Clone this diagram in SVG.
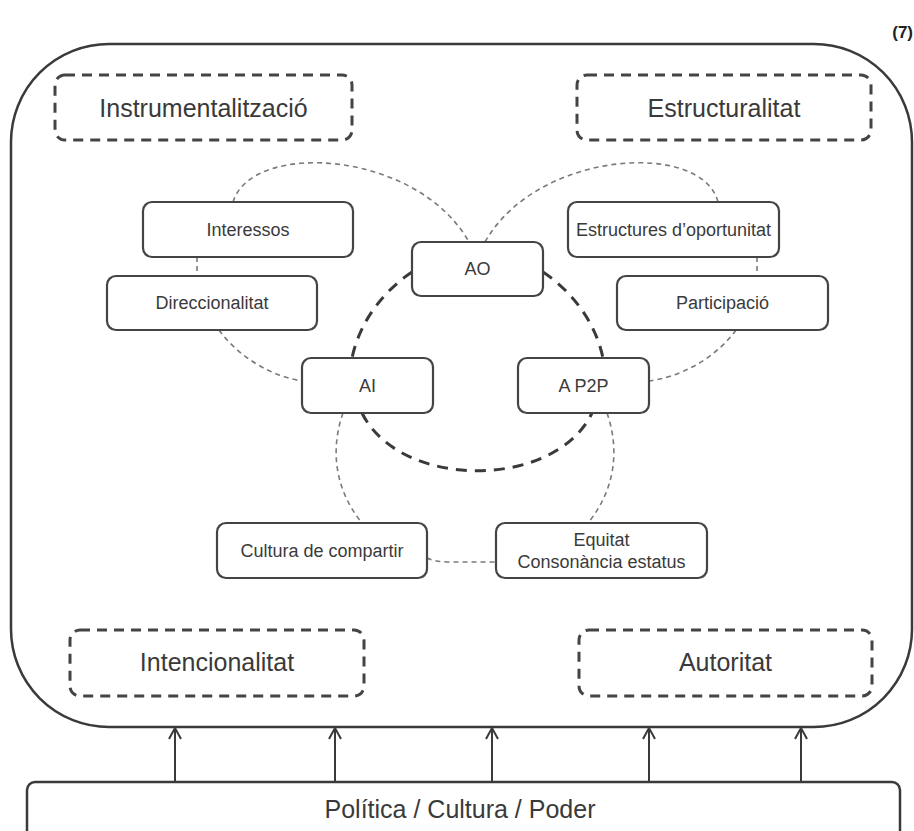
<svg xmlns="http://www.w3.org/2000/svg" width="914" height="831" viewBox="0 0 914 831">
  <defs>
    <style>
      .frame { fill: #ffffff; stroke: #3a3a3a; stroke-width: 2.5; }
      .dimension { fill: none; stroke: #444; stroke-width: 3; stroke-dasharray: 10 7; }
      .node rect { fill: #ffffff; stroke: #444; stroke-width: 2.2; }
      .big { font-family: "Liberation Sans", Arial, sans-serif; font-size: 25px; fill: #3a3a3a; text-anchor: middle; }
      .small { font-family: "Liberation Sans", Arial, sans-serif; font-size: 18px; fill: #3a3a3a; text-anchor: middle; }
      .link { fill: none; stroke: #7a7a7a; stroke-width: 1.6; stroke-dasharray: 5 4; }
      .ring { fill: none; stroke: #3a3a3a; stroke-width: 3; stroke-dasharray: 11 8; }
      .arrow { fill: none; stroke: #3a3a3a; stroke-width: 2; marker-end: url(#open-arrow); }
    </style>
    <marker id="open-arrow" viewBox="0 0 14 14" refX="13" refY="7" markerWidth="14" markerHeight="14" orient="auto" markerUnits="userSpaceOnUse">
      <path d="M2,1 L13,7 L2,13" fill="none" stroke="#3a3a3a" stroke-width="2"/>
    </marker>
  </defs>

  <rect width="914" height="831" fill="#ffffff"/>

  <!-- figure number -->
  <text x="913" y="38" font-family="Liberation Sans, Arial, sans-serif" font-size="17" font-weight="bold" fill="#222" text-anchor="end">(7)</text>

  <!-- outer frame -->
  <g id="frame">
    <rect class="frame" x="11" y="44" width="901" height="683" rx="98" ry="98"/>
  </g>

  <!-- dimension boxes -->
  <g id="instrumentalitzacio">
    <rect class="dimension" x="55" y="75" width="297" height="65" rx="10"/>
    <text class="big" x="203.5" y="117">Instrumentalització</text>
  </g>
  <g id="estructuralitat">
    <rect class="dimension" x="577" y="75" width="294" height="65" rx="10"/>
    <text class="big" x="724" y="117">Estructuralitat</text>
  </g>
  <g id="intencionalitat">
    <rect class="dimension" x="70" y="630" width="294" height="66" rx="10"/>
    <text class="big" x="217" y="671">Intencionalitat</text>
  </g>
  <g id="autoritat">
    <rect class="dimension" x="579" y="630" width="293" height="66" rx="10"/>
    <text class="big" x="725.5" y="671">Autoritat</text>
  </g>

  <!-- connectors -->
  <g id="connectors">
    <!-- outer dashed links -->
    <path class="link" d="M233,202 C252,140 417,150 469,242"/>
    <path class="link" d="M197,257 L197,276"/>
    <path class="link" d="M219,330 C235,352 265,375 302,381"/>
    <path class="link" d="M485,242 C537,150 702,140 718,202"/>
    <path class="link" d="M757,257 L757,276"/>
    <path class="link" d="M736,330 C720,352 690,375 649,381"/>
    <path class="link" d="M343,413 C330,450 335,490 362,523"/>
    <path class="link" d="M607,413 C620,450 615,490 588,523"/>
    <path class="link" d="M427,558 Q436,562 450,562 L496,562"/>
    <!-- central ring -->
    <path class="ring" d="M412,272 C385,290 360,320 352,358"/>
    <path class="ring" d="M543,272 C570,290 595,320 603,358"/>
    <path class="ring" d="M362,413 C400,490 555,490 592,413"/>
    <!-- influence arrows -->
    <path class="arrow" d="M175,782 L175,728"/>
    <path class="arrow" d="M335,782 L335,728"/>
    <path class="arrow" d="M492,782 L492,728"/>
    <path class="arrow" d="M649,782 L649,728"/>
    <path class="arrow" d="M801,782 L801,728"/>
  </g>

  <!-- nodes -->
  <g id="interessos" class="node">
    <rect x="143" y="202" width="210" height="55" rx="9"/>
    <text class="small" x="248" y="236">Interessos</text>
  </g>
  <g id="direccionalitat" class="node">
    <rect x="107" y="276" width="210" height="54" rx="9"/>
    <text class="small" x="212" y="309">Direccionalitat</text>
  </g>
  <g id="ao" class="node">
    <rect x="412" y="242" width="131" height="54" rx="9"/>
    <text class="small" x="477.5" y="275">AO</text>
  </g>
  <g id="estructures" class="node">
    <rect x="568" y="202" width="211" height="55" rx="9"/>
    <text class="small" x="673.5" y="236">Estructures d’oportunitat</text>
  </g>
  <g id="participacio" class="node">
    <rect x="617" y="276" width="211" height="54" rx="9"/>
    <text class="small" x="722.5" y="309">Participació</text>
  </g>
  <g id="ai" class="node">
    <rect x="302" y="358" width="131" height="55" rx="9"/>
    <text class="small" x="367.5" y="392">AI</text>
  </g>
  <g id="ap2p" class="node">
    <rect x="518" y="358" width="131" height="55" rx="9"/>
    <text class="small" x="583.5" y="392">A P2P</text>
  </g>
  <g id="cultura" class="node">
    <rect x="217" y="523" width="210" height="55" rx="9"/>
    <text class="small" x="322" y="557">Cultura de compartir</text>
  </g>
  <g id="equitat" class="node">
    <rect x="496" y="523" width="211" height="55" rx="9"/>
    <text class="small" x="601.5" y="546">Equitat</text>
    <text class="small" x="601.5" y="568">Consonància estatus</text>
  </g>

  <!-- base box -->
  <g id="politica">
    <rect class="frame" x="27" y="782" width="873" height="70" rx="8"/>
    <text class="big" x="460" y="818">Política / Cultura / Poder</text>
  </g>
</svg>
